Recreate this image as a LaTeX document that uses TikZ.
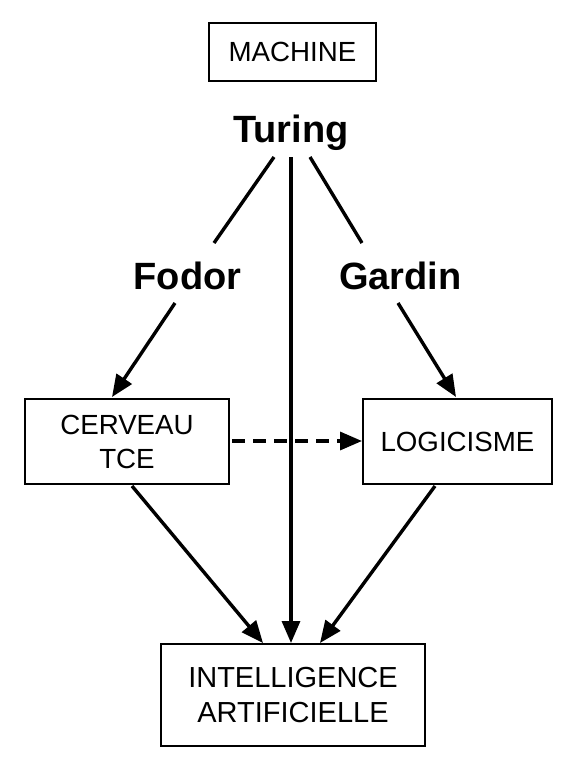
\documentclass[tikz,border=0pt]{standalone}
\usepackage{fontspec}
\setmainfont{Liberation Sans}
\usetikzlibrary{arrows.meta}
\begin{document}
\begin{tikzpicture}[x=1pt,y=-1pt,
  boxnode/.style={draw,line width=1.3pt,inner sep=0pt,align=center,font=\fontsize{27.7}{34}\selectfont},
  bigname/.style={inner sep=0pt,anchor=base,font=\fontsize{38}{40}\selectfont\bfseries},
  link/.style={line width=3.4pt},
  arr/.style={line width=3.4pt,-{Triangle[length=22pt,width=18pt]}},
  dasharr/.style={arr,dash pattern=on 13pt off 8pt}]
\useasboundingbox (0,0) rectangle (576,768);
% boxes
\node[boxnode,minimum width=167pt,minimum height=58pt] (machine) at (292.5,52) {MACHINE};
\node[boxnode,minimum width=204pt,minimum height=85pt] (cerveau) at (127,441.5) {CERVEAU\\TCE};
\node[boxnode,minimum width=189pt,minimum height=85pt] (logic) at (457.5,441.5) {LOGICISME};
\node[boxnode,minimum width=264pt,minimum height=102pt,font=\fontsize{29}{35}\selectfont] (ia) at (293,695) {INTELLIGENCE\\ARTIFICIELLE};
% names
\node[bigname] (turing) at (291,142) {Turing};
\node[bigname] (fodor) at (187.5,289) {Fodor};
\node[bigname] (gardin) at (400.5,289) {Gardin};
% connector end points
\coordinate (tl) at (274,157);
\coordinate (tm) at (291,157);
\coordinate (tr) at (310,157);
\coordinate (fa) at (214,243);
\coordinate (ga) at (362,243);
\coordinate (fb) at (175,303);
\coordinate (gb) at (398,303);
\coordinate (ct) at (112,397);
\coordinate (lt) at (456,397);
\coordinate (cs) at (132,486);
\coordinate (ls) at (435,486);
\coordinate (ia1) at (263,643);
\coordinate (ia2) at (291,643);
\coordinate (ia3) at (320,643);
\coordinate (d1) at (232,441);
\coordinate (d2) at (362,441);
% connectors
\draw[link] (tl) -- (fa);
\draw[link] (tr) -- (ga);
\draw[arr] (fb) -- (ct);
\draw[arr] (gb) -- (lt);
\draw[arr] (tm) -- (ia2);
\draw[arr] (cs) -- (ia1);
\draw[arr] (ls) -- (ia3);
\draw[dasharr] (d1) -- (d2);
\end{tikzpicture}
\end{document}
